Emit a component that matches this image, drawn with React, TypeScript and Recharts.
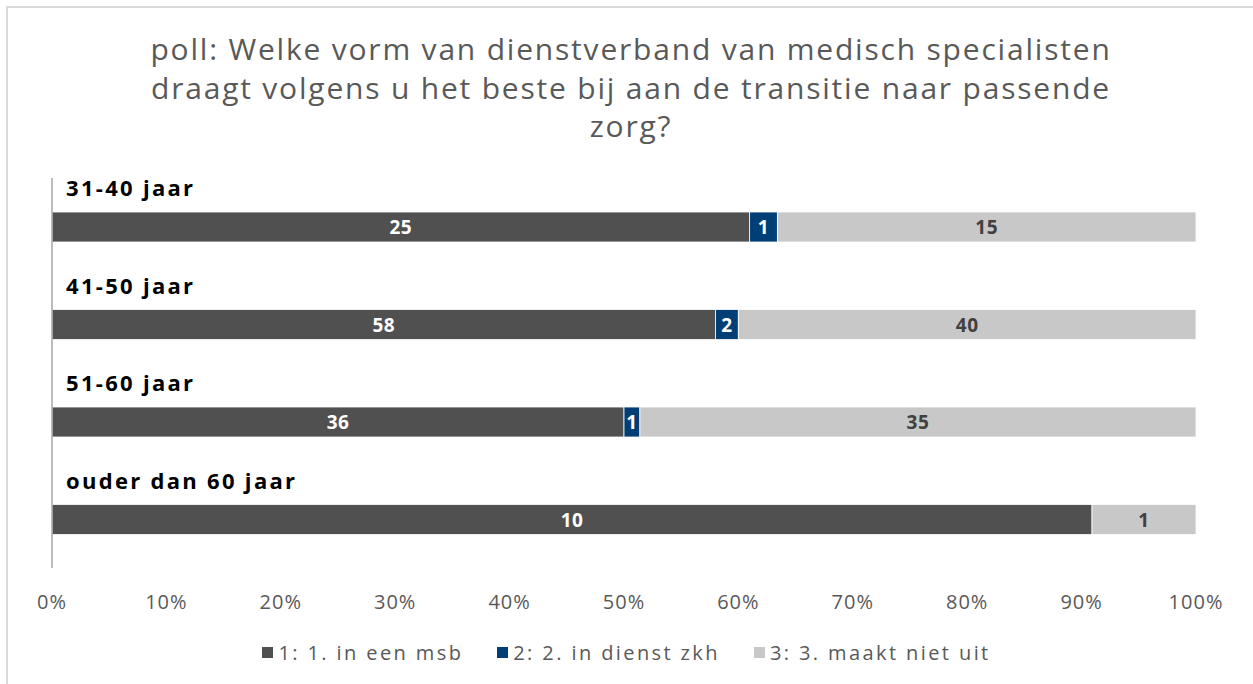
import React from 'react';
import { BarChart, Bar, XAxis, YAxis, Legend, LabelList, ReferenceLine } from 'recharts';

const categories = ['31-40 jaar', '41-50 jaar', '51-60 jaar', 'ouder dan 60 jaar'];
const inEenMsb = [25, 58, 36, 10];
const inDienstZkh = [1, 2, 1, 0];
const maaktNietUit = [15, 40, 35, 1];
const seriesNames = ['1: 1. in een msb', '2: 2. in dienst zkh', '3: 3. maakt niet uit'];
const seriesColors = ['#505050', '#003F75', '#C8C8C8'];
const labelColors = ['#FFFFFF', '#FFFFFF', '#404040'];
const xTicks = [0, 0.1, 0.2, 0.3, 0.4, 0.5, 0.6, 0.7, 0.8, 0.9, 1];
const titleLines = [
  'poll: Welke vorm van dienstverband van medisch specialisten',
  'draagt volgens u het beste bij aan de transitie naar passende',
  'zorg?',
];

const FONT = "'Open Sans', 'DejaVu Sans', sans-serif";

const data = categories.map((cat, i) => {
  const total = inEenMsb[i] + inDienstZkh[i] + maaktNietUit[i];
  return {
    cat,
    p1: inEenMsb[i] / total,
    p2: inDienstZkh[i] / total,
    p3: maaktNietUit[i] / total,
    n1: inEenMsb[i],
    n2: inDienstZkh[i],
    n3: maaktNietUit[i],
  };
});

const makeValueLabel = (color: string) => (props: any) => {
  const { x, y, width, height, value } = props;
  if (!value) return null;
  return (
    <text
      x={Number(x) + Number(width) / 2}
      y={Number(y) + Number(height) / 2}
      fill={color}
      textAnchor="middle"
      dominantBaseline="central"
      fontFamily={FONT}
      fontWeight={700}
      fontSize={19}
      letterSpacing={0.5}
    >
      {value}
    </text>
  );
};

const CategoryLabel = (props: any) => {
  const { x, y, value } = props;
  return (
    <text
      x={Number(x) + 14}
      y={Number(y) - 16}
      fill="#000000"
      textAnchor="start"
      fontFamily={FONT}
      fontWeight={700}
      fontSize={22}
      letterSpacing={2.3}
    >
      {value}
    </text>
  );
};

const LegendContent = () => (
  <div
    style={{
      display: 'flex',
      justifyContent: 'center',
      alignItems: 'center',
      height: 30,
      fontFamily: FONT,
      fontSize: 20,
      letterSpacing: 2.4,
      color: '#595959',
      gap: 34,
    }}
  >
    {seriesNames.map((name, i) => (
      <div key={name} style={{ display: 'flex', alignItems: 'center' }}>
        <span
          style={{
            display: 'inline-block',
            width: 11,
            height: 11,
            background: seriesColors[i],
            marginRight: 5,
          }}
        />
        <span>{name}</span>
      </div>
    ))}
  </div>
);

export default function App() {
  return (
    <div style={{ position: 'absolute', left: 0, top: 0, width: 1253, height: 684, background: '#fff', overflow: 'hidden' }}>
      <div
        style={{
          position: 'absolute',
          left: 6,
          top: 6,
          width: 1260,
          height: 700,
          borderTop: '2px solid #D9D9D9',
          borderLeft: '2px solid #D9D9D9',
        }}
      />
      <div
        style={{
          position: 'absolute',
          left: 0,
          top: 30,
          width: 1262,
          textAlign: 'center',
          fontFamily: FONT,
          fontSize: 30,
          letterSpacing: 1.8,
          lineHeight: '38.5px',
          color: '#595959',
        }}
      >
        {titleLines.map((l) => (
          <div key={l}>{l}</div>
        ))}
      </div>
      <div style={{ position: 'absolute', left: 0, top: 0 }}>
        <BarChart
          width={1253}
          height={684}
          data={data}
          layout="vertical"
          margin={{ top: 178, right: 57, bottom: 46, left: 52 }}
          barSize={30}
        >
          <XAxis
            type="number"
            domain={[0, 1]}
            ticks={xTicks}
            tickFormatter={(v: number) => `${Math.round(v * 100)}%`}
            axisLine={false}
            tickLine={false}
            height={40}
            tick={{ fill: '#595959', fontSize: 20, fontFamily: FONT, dy: 19, letterSpacing: 1 }}
            allowDataOverflow
          />
          <YAxis
            type="category"
            dataKey="cat"
            width={0}
            tick={false}
            tickLine={false}
            axisLine={false}
          />
          <ReferenceLine x={0} stroke="#A6A6A6" strokeWidth={1.5} />
          <Legend
            verticalAlign="bottom"
            content={<LegendContent />}
            wrapperStyle={{ top: 637, bottom: 'auto', left: 0, width: 1253 }}
          />
          <Bar dataKey="p1" name={seriesNames[0]} stackId="a" fill={seriesColors[0]} stroke="#FFFFFF" strokeWidth={0.8} isAnimationActive={false}>
            <LabelList dataKey="n1" content={makeValueLabel(labelColors[0])} />
            <LabelList dataKey="cat" content={CategoryLabel} />
          </Bar>
          <Bar dataKey="p2" name={seriesNames[1]} stackId="a" fill={seriesColors[1]} stroke="#FFFFFF" strokeWidth={0.8} isAnimationActive={false}>
            <LabelList dataKey="n2" content={makeValueLabel(labelColors[1])} />
          </Bar>
          <Bar dataKey="p3" name={seriesNames[2]} stackId="a" fill={seriesColors[2]} stroke="#FFFFFF" strokeWidth={0.8} isAnimationActive={false}>
            <LabelList dataKey="n3" content={makeValueLabel(labelColors[2])} />
          </Bar>
        </BarChart>
      </div>
    </div>
  );
}
